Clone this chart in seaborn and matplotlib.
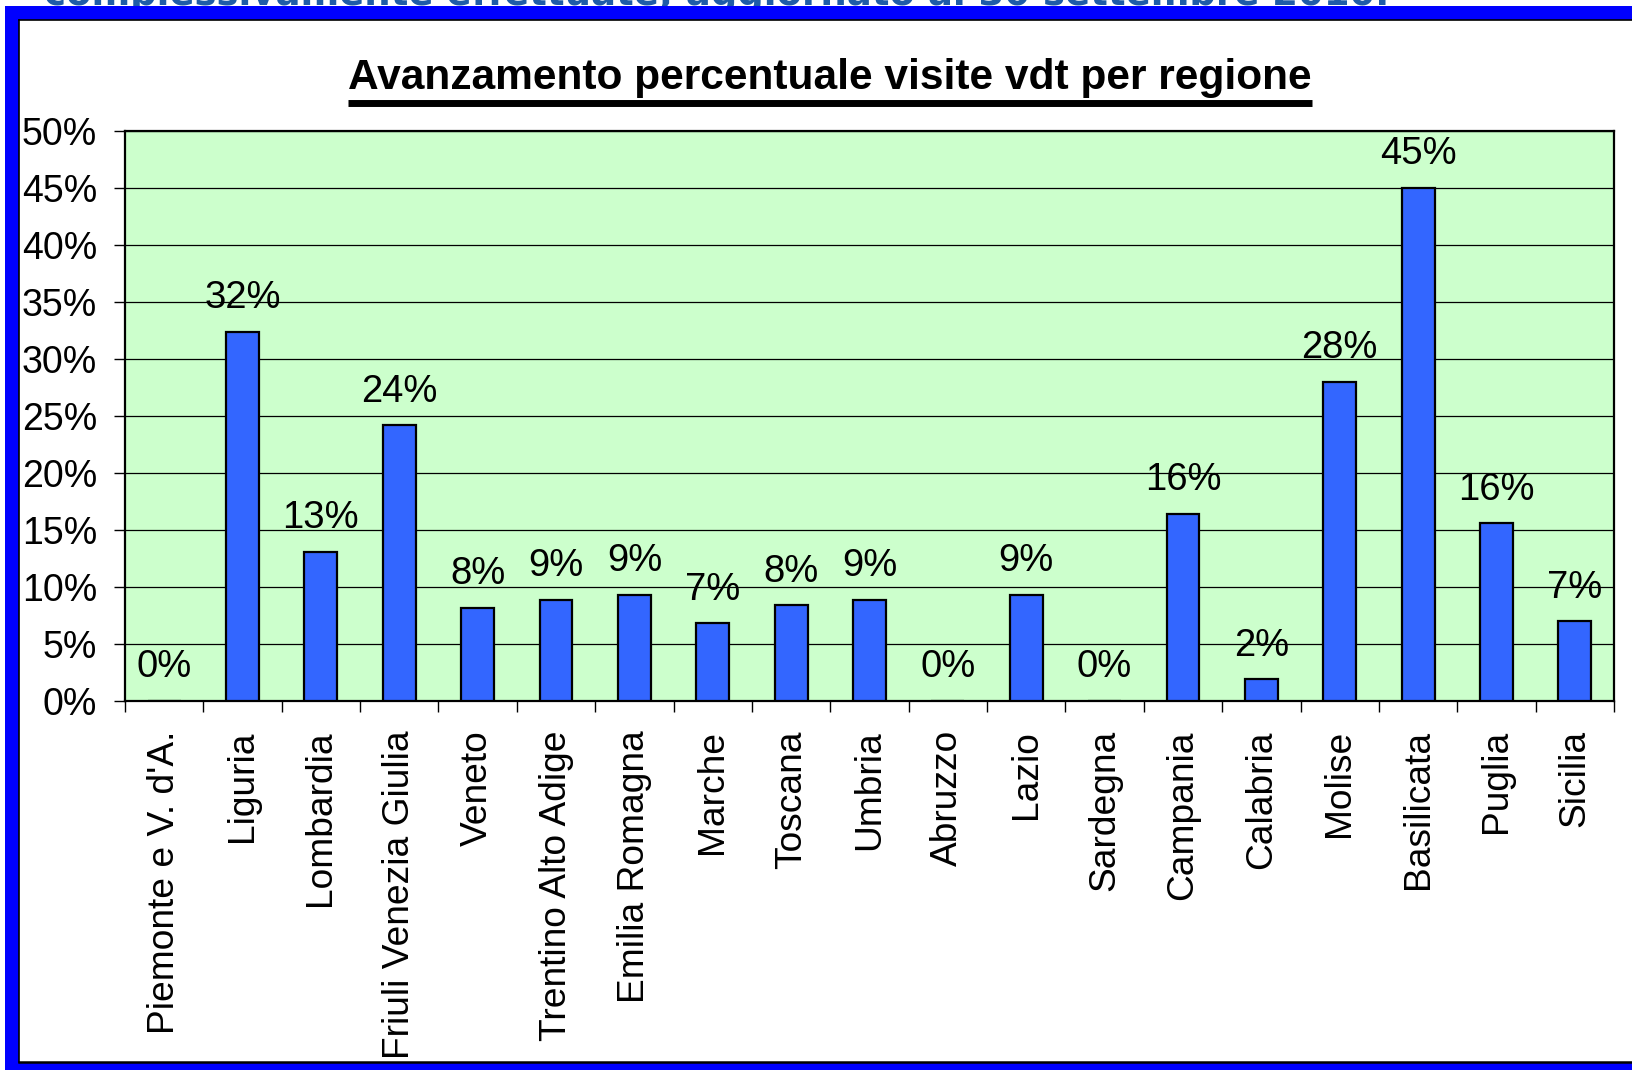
import numpy as np
import pandas as pd
import seaborn as sns
import matplotlib.pyplot as plt
from matplotlib.patches import Rectangle
from matplotlib.lines import Line2D
from matplotlib.ticker import PercentFormatter

# dati
regioni = ["Piemonte e V. d'A.", "Liguria", "Lombardia", "Friuli Venezia Giulia",
           "Veneto", "Trentino Alto Adige", "Emilia Romagna", "Marche", "Toscana",
           "Umbria", "Abruzzo", "Lazio", "Sardegna", "Campania", "Calabria",
           "Molise", "Basilicata", "Puglia", "Sicilia"]
valori = [0.0, 0.324, 0.131, 0.242, 0.082, 0.089, 0.093, 0.068, 0.084, 0.089,
          0.0, 0.093, 0.0, 0.164, 0.019, 0.280, 0.450, 0.156, 0.070]
titolo = "Avanzamento percentuale visite vdt per regione"
sopra = "complessivamente effettuate, aggiornato al 30 settembre 2010."

W, H = 1633, 1070
plt.rcParams['font.family'] = ['Liberation Sans', 'DejaVu Sans']

fig = plt.figure(figsize=(W / 100, H / 100), dpi=100)


def px(x, y):
    # pixel dall'alto a sinistra -> frazione di figura
    return x / W, 1 - y / H


def fit_width(t, width):
    r = fig.canvas.get_renderer()
    w = t.get_window_extent(r).width
    t.set_fontsize(t.get_fontsize() * width / w)


# testo tagliato in alto (sotto la banda blu), come nell'originale
x0, y0 = px(44, 5)
t_top = fig.text(x0, y0, sopra, color='#1f5ca8', fontsize=24, fontweight='bold',
                 family='DejaVu Sans', ha='left', va='baseline', zorder=1)
fig.canvas.draw()
fit_width(t_top, 1392 - 44)

# cornice blu
blu = '#0000ff'
for (x, y, w, h) in [(5, 6, W - 5, 14), (5, 6, 14, H - 6), (5, 1063, W - 5, 7)]:
    fx, fy = px(x, y + h)
    fig.patches.append(Rectangle((fx, fy), w / W, h / H, transform=fig.transFigure,
                                 facecolor=blu, edgecolor='none', zorder=5))
fig.lines.append(Line2D([19 / W, 1], [1 - 20 / H] * 2, transform=fig.transFigure,
                        color='black', lw=1.2, zorder=6))
fig.lines.append(Line2D([19.5 / W] * 2, [1 - 20 / H, 1 - 1062 / H], transform=fig.transFigure,
                        color='black', lw=1.2, zorder=6))
fig.lines.append(Line2D([19 / W, 1], [1 - 1062 / H] * 2, transform=fig.transFigure,
                        color='black', lw=1.8, zorder=6))

# titolo sottolineato
tx, ty = px((348 + 1312) / 2, 89)
t_title = fig.text(tx, ty, titolo, fontsize=26, fontweight='bold', ha='center', va='baseline')
fig.canvas.draw()
fit_width(t_title, 1312 - 348)
ux0, uy = px(348, 103.5)
ux1, _ = px(1312, 0)
fig.lines.append(Line2D([ux0, ux1], [uy, uy], transform=fig.transFigure, color='black',
                        lw=5, solid_capstyle='butt'))

# grafico a barre
ax = fig.add_axes([125 / W, 1 - 701 / H, (1614 - 125) / W, (701 - 131) / H])
df = pd.DataFrame({'regione': regioni, 'quota': valori})
sns.barplot(data=df, x='regione', y='quota', color='#3366ff', saturation=1, width=0.42,
            edgecolor='black', linewidth=1.6, ax=ax, zorder=3)

ax.set_facecolor('#ccffcc')
ax.set_ylim(0, 0.5)
ax.set_yticks(np.arange(0, 0.501, 0.05))
ax.yaxis.set_major_formatter(PercentFormatter(1.0, decimals=0))
ax.yaxis.grid(True, color='black', lw=0.9)
ax.set_axisbelow(True)
ax.tick_params(axis='y', labelsize=27, length=8, width=1, pad=12)

ax.set_xlim(-0.5, len(regioni) - 0.5)
ax.set_xticks(np.arange(-0.5, len(regioni), 1))
ax.set_xticklabels([])
ax.tick_params(axis='x', which='major', length=8, width=1)
ax.set_xticks(range(len(regioni)), minor=True)
ax.set_xticklabels(regioni, minor=True, rotation=90, fontsize=26.7)
ax.tick_params(axis='x', which='minor', length=0, pad=21)
ax.set_xlabel('')
ax.set_ylabel('')
for s in ax.spines.values():
    s.set_color('black')
    s.set_linewidth(1.6)

for i, v in enumerate(valori):
    ax.annotate(f"{v:.0%}", (i, v), xytext=(0, 17), textcoords='offset points',
                ha='center', va='baseline', fontsize=27.5, zorder=4)

fig.savefig('out.png', dpi=100)
